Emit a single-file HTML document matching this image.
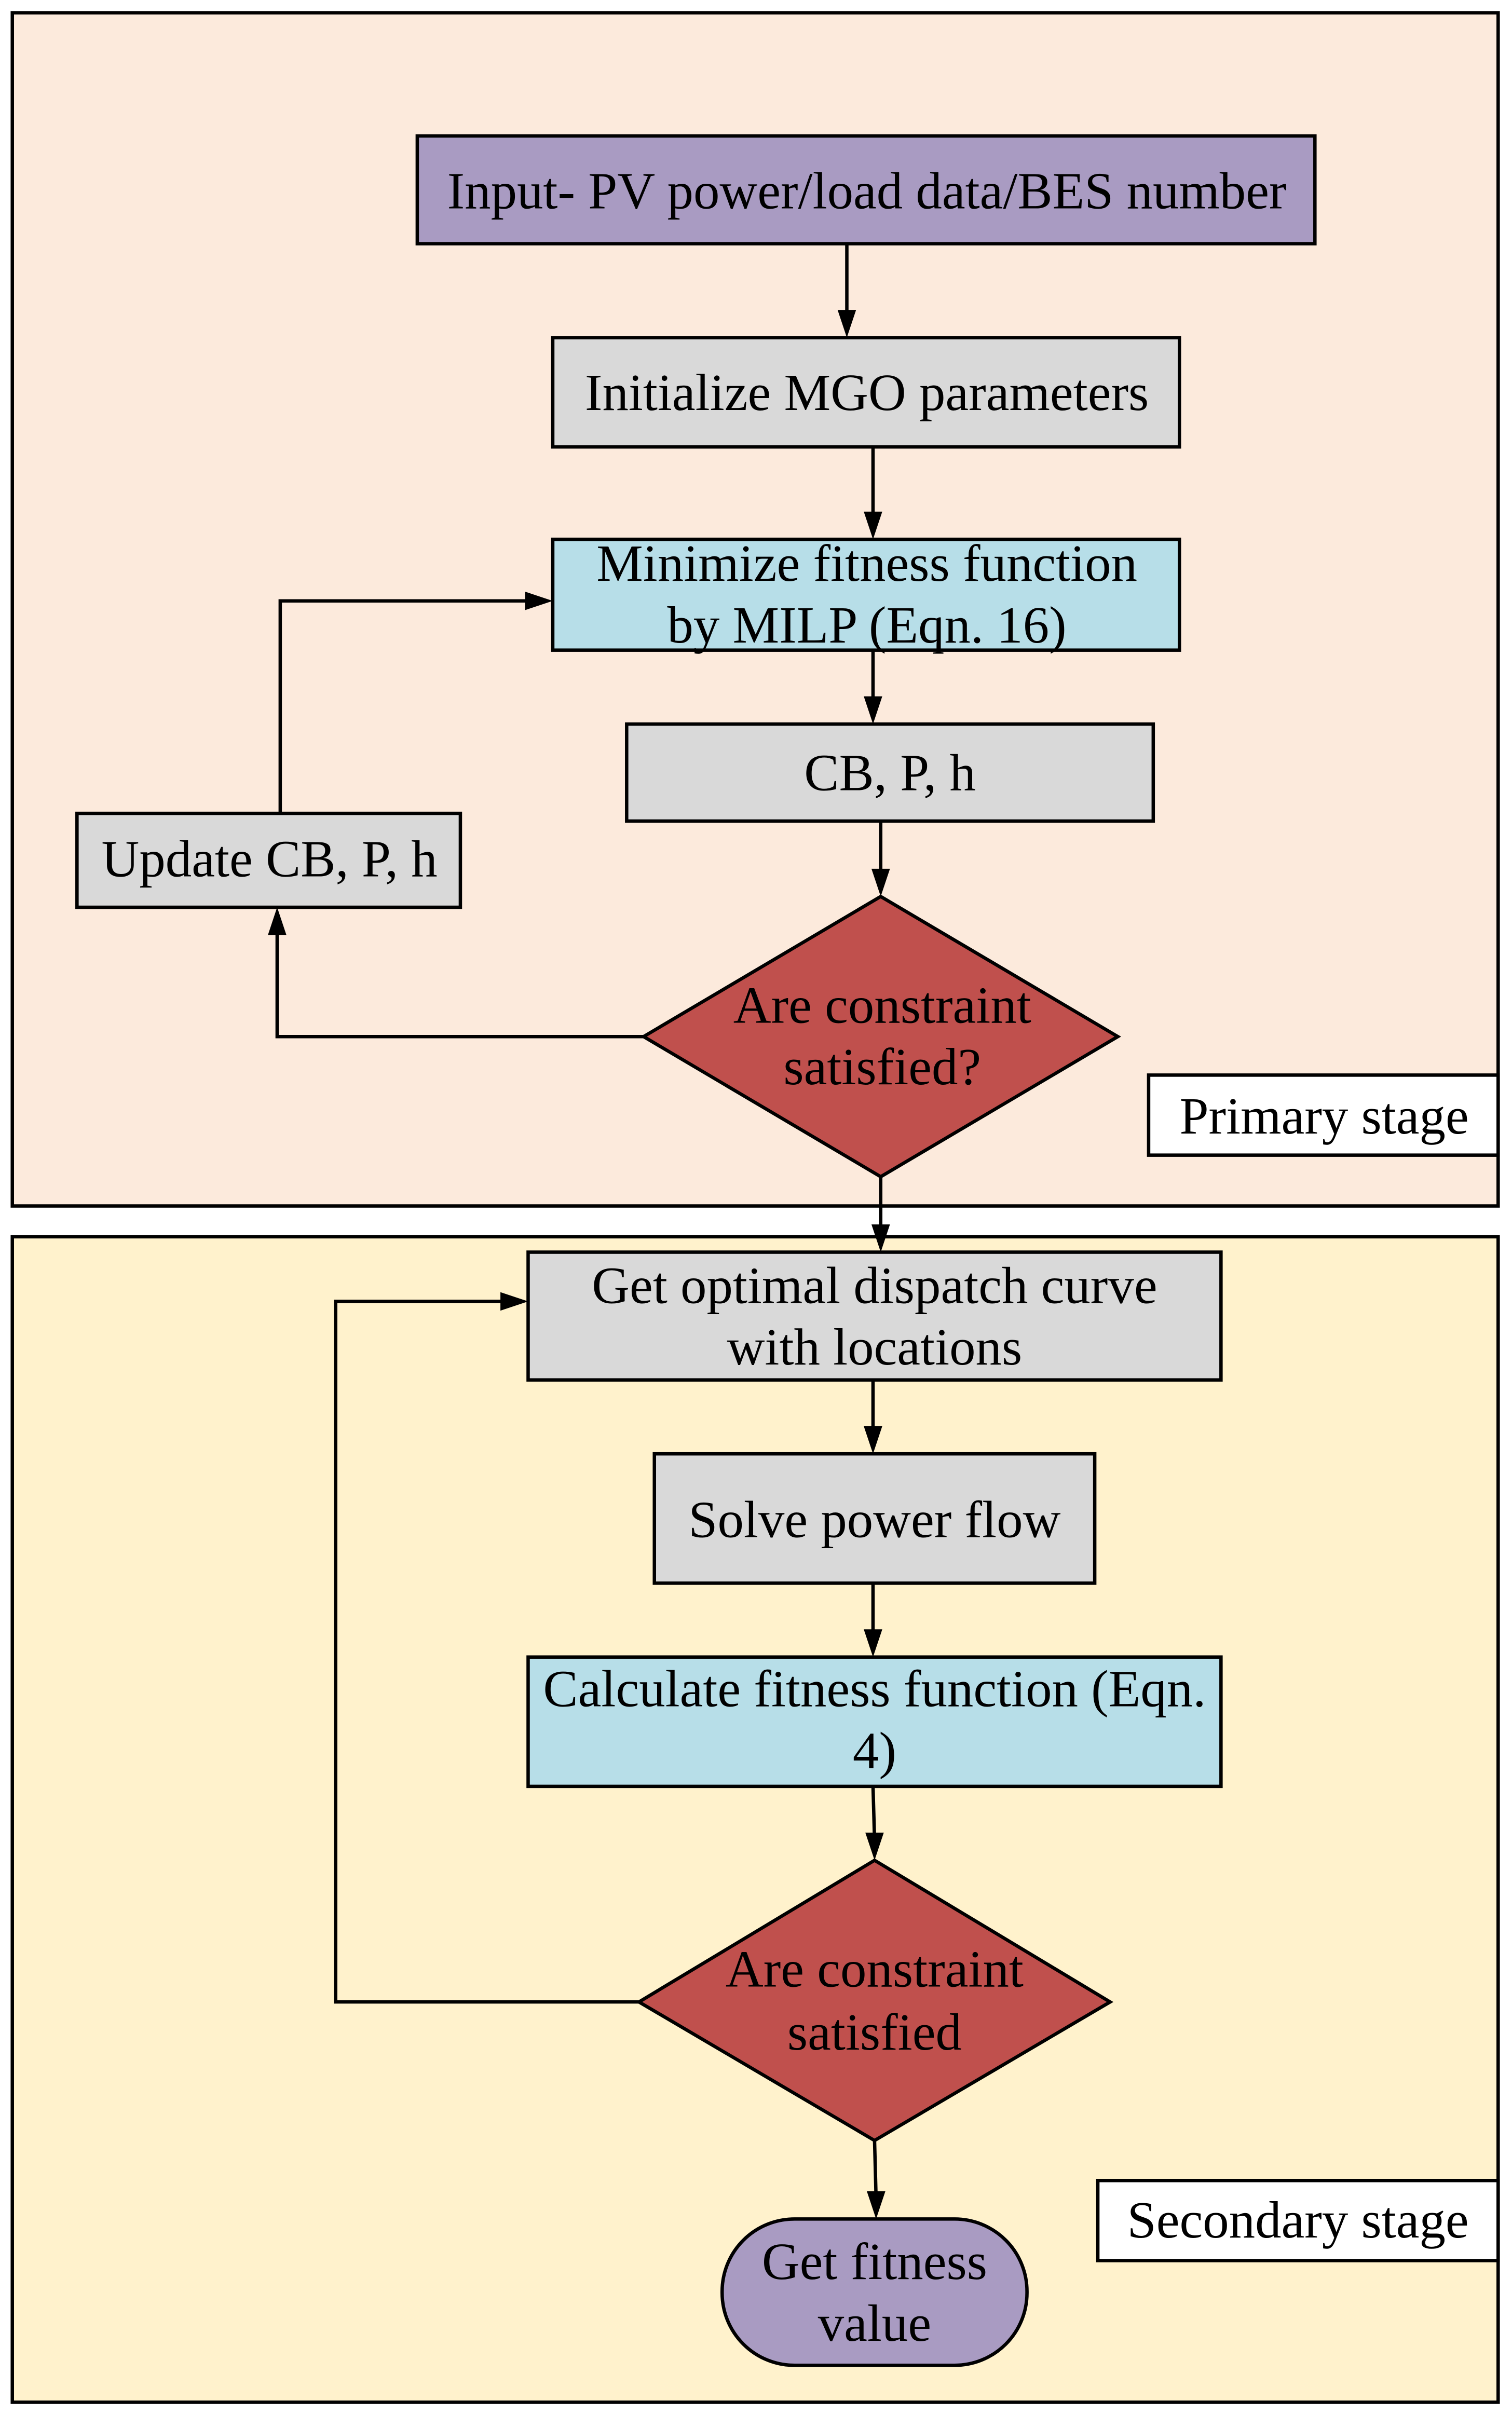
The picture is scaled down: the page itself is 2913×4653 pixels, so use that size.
<!DOCTYPE html>
<html><head><meta charset="utf-8"><style>
html,body{margin:0;padding:0;background:#fff;}
svg{display:block;}
text{font-family:"Liberation Serif",serif;font-size:34px;fill:#000;text-anchor:middle;}
</style></head><body>
<svg width="2913" height="4653" viewBox="0 0 982 1568" xmlns="http://www.w3.org/2000/svg">
<g stroke="#000" stroke-width="2.2">
<rect x="8" y="8" width="965" height="775" fill="#FCEADC"/>
<rect x="8" y="803" width="965" height="757" fill="#FFF2CC"/>
<rect x="271" y="88" width="583" height="70" fill="#A99BC2"/>
<rect x="359" y="219" width="407" height="71" fill="#D9D9D9"/>
<rect x="359" y="350" width="407" height="72" fill="#B7DEE8"/>
<rect x="407" y="470" width="342" height="63" fill="#D9D9D9"/>
<rect x="50" y="528" width="249" height="61" fill="#D9D9D9"/>
<polygon points="572,582 726,673 572,764 418,673" fill="#C0504D"/>
<rect x="746" y="698" width="227" height="52" fill="#fff"/>
<rect x="343" y="813" width="450" height="83" fill="#D9D9D9"/>
<rect x="425" y="944" width="286" height="84" fill="#D9D9D9"/>
<rect x="343" y="1076" width="450" height="84" fill="#B7DEE8"/>
<polygon points="568,1208 721,1300 568,1390 415,1300" fill="#C0504D"/>
<rect x="469" y="1441" width="198" height="95" rx="47" fill="#A99BC2"/>
<rect x="713" y="1416" width="260" height="52" fill="#fff"/>
</g>
<g stroke="#000" stroke-width="2.2" fill="none">
<line x1="550" y1="158" x2="550" y2="205"/>
<line x1="567" y1="290" x2="567" y2="337"/>
<line x1="567" y1="422" x2="567" y2="457"/>
<line x1="572" y1="533" x2="572" y2="569"/>
<polyline points="418,673 180,673 180,602"/>
<polyline points="182,528 182,390 346,390"/>
<line x1="572" y1="764" x2="572" y2="800"/>
<line x1="567" y1="896" x2="567" y2="931"/>
<line x1="567" y1="1028" x2="567" y2="1063"/>
<line x1="567" y1="1160" x2="568" y2="1195"/>
<polyline points="415,1300 218,1300 218,845 330,845"/>
<line x1="568" y1="1390" x2="569" y2="1428"/>
</g>
<g fill="#000">
<polygon points="544,201 556,201 550,219"/>
<polygon points="561,332 573,332 567,350"/>
<polygon points="561,452 573,452 567,470"/>
<polygon points="566,564 578,564 572,582"/>
<polygon points="174,607 186,607 180,589"/>
<polygon points="341,384 341,396 359,390"/>
<polygon points="566,795 578,795 572,813"/>
<polygon points="561,926 573,926 567,944"/>
<polygon points="561,1058 573,1058 567,1076"/>
<polygon points="562,1190 574,1190 568,1208"/>
<polygon points="325,839 325,851 343,845"/>
<polygon points="563,1423 575,1423 569,1441"/>
</g>
<text x="563" y="135">Input- PV power/load data/BES number</text>
<text x="563" y="266">Initialize MGO parameters</text>
<text x="563" y="377">Minimize fitness function</text>
<text x="563" y="417">by MILP (Eqn. 16)</text>
<text x="578" y="513">CB, P, h</text>
<text x="175" y="569">Update CB, P, h</text>
<text x="573" y="664">Are constraint</text>
<text x="573" y="704">satisfied?</text>
<text x="860" y="736">Primary stage</text>
<text x="568" y="846">Get optimal dispatch curve</text>
<text x="568" y="886">with locations</text>
<text x="568" y="998">Solve power flow</text>
<text x="568" y="1108">Calculate fitness function (Eqn.</text>
<text x="568" y="1148">4)</text>
<text x="568" y="1290">Are constraint</text>
<text x="568" y="1331">satisfied</text>
<text x="843" y="1453">Secondary stage</text>
<text x="568" y="1480">Get fitness</text>
<text x="568" y="1520">value</text>
</svg>
</body></html>
